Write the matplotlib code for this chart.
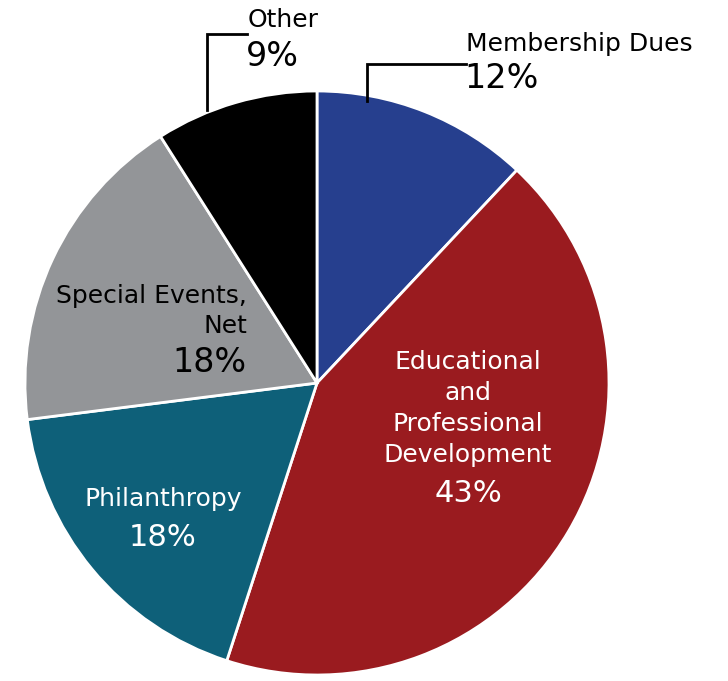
import matplotlib
matplotlib.use("Agg")
import matplotlib.pyplot as plt

categories = ["Membership Dues", "Educational and Professional Development",
              "Philanthropy", "Special Events, Net", "Other"]
values = [12, 43, 18, 18, 9]
colors = ["#263f8e", "#9a1b1f", "#0e6079", "#939598", "#000000"]

plt.rcParams['font.family'] = ['DejaVu Sans']

W, H = 728, 681
fig = plt.figure(figsize=(W/100, H/100), dpi=100)
ax = fig.add_axes([0, 0, 1, 1])

def Y(py):
    return H - py

cx, cy, r = 317, Y(383), 292
ax.pie(values, colors=colors, startangle=90, counterclock=False,
       center=(cx, cy), radius=r, frame=True,
       wedgeprops=dict(edgecolor='white', linewidth=2))
ax.set_xlim(0, W)
ax.set_ylim(0, H)
ax.set_aspect('equal')
ax.axis('off')

lab = 18
pct = 24
pct2 = 22

# Other
ax.plot([207, 207, 247], [Y(110), Y(34), Y(34)], color='black', lw=2, solid_joinstyle='miter')
ax.text(248, Y(20), "Other", fontsize=lab, ha='left', va='center', color='black')
ax.text(246, Y(56), f"{values[4]}%", fontsize=pct, ha='left', va='center', color='black')

# Membership
ax.plot([367, 367, 466], [Y(101), Y(64), Y(64)], color='black', lw=2, solid_joinstyle='miter')
ax.text(466, Y(44), "Membership Dues", fontsize=lab, ha='left', va='center', color='black')
ax.text(464, Y(79), f"{values[0]}%", fontsize=pct, ha='left', va='center', color='black')

# Educational
for txt, yy in [("Educational", 362), ("and", 393), ("Professional", 424), ("Development", 455)]:
    ax.text(468, Y(yy), txt, fontsize=lab, ha='center', va='center', color='white')
ax.text(468, Y(493), f"{values[1]}%", fontsize=pct2, ha='center', va='center', color='white')

# Philanthropy
ax.text(163, Y(499), "Philanthropy", fontsize=lab, ha='center', va='center', color='white')
ax.text(163, Y(537), f"{values[2]}%", fontsize=pct2, ha='center', va='center', color='white')

# Special Events
ax.text(247, Y(296), "Special Events,", fontsize=lab, ha='right', va='center', color='black')
ax.text(247, Y(326), "Net", fontsize=lab, ha='right', va='center', color='black')
ax.text(247, Y(362), f"{values[3]}%", fontsize=pct, ha='right', va='center', color='black')

fig.savefig("out.png", dpi=100, facecolor='white')
